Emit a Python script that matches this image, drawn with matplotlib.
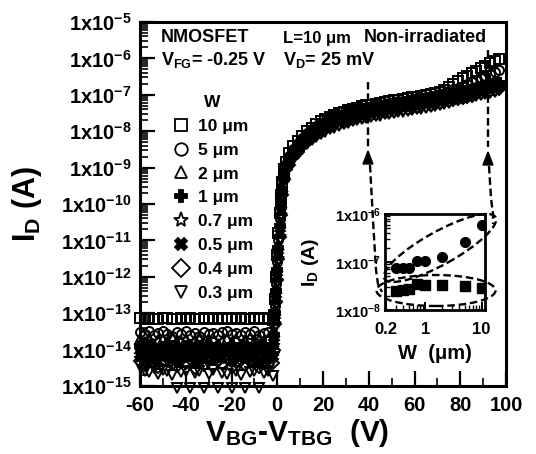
import numpy as np
import matplotlib
matplotlib.use("Agg")
import matplotlib.pyplot as plt
from matplotlib.lines import Line2D
from matplotlib.patches import Ellipse, Polygon
from matplotlib.ticker import LogLocator, FuncFormatter, MultipleLocator, NullFormatter, FixedLocator, FixedFormatter

plt.rcParams['font.family'] = ['Liberation Sans', 'DejaVu Sans']
plt.rcParams['font.weight'] = 'bold'
plt.rcParams['mathtext.fontset'] = 'custom'
plt.rcParams['mathtext.rm'] = 'Liberation Sans:bold'
plt.rcParams['mathtext.it'] = 'Liberation Sans:bold'
plt.rcParams['mathtext.bf'] = 'Liberation Sans:bold'
plt.rcParams['mathtext.default'] = 'rm'
plt.rcParams['axes.unicode_minus'] = False

# ---------------- data (log10 of I_D in A) ----------------
V_OFF = list(range(-60, -1, 2))                       # 30 pts
V_SUB = [-1.5, -1, -0.5, 0, 0.5, 1, 1.5, 2, 3, 4]      # 10 pts
V_ON = list(range(5, 98, 2))                          # 47 pts
V_BG = V_OFF + V_SUB + V_ON

W_LABELS = ["10 μm", "5 μm", "2 μm", "1 μm", "0.7 μm", "0.5 μm", "0.4 μm", "0.3 μm"]

logid_10um = [-13.14,-13.16,-13.13,-13.15,-13.17,-13.14,-13.12,-13.15,-13.16,-13.13,-13.15,-13.14,-13.17,-13.15,-13.13,-13.16,-13.14,-13.15,-13.12,-13.16,-13.14,-13.15,-13.13,-13.17,-13.15,-13.14,-13.16,-13.13,-13.15,-13.18,
    -13.05,-12.6,-12.0,-11.4,-10.8,-10.25,-9.75,-9.4,-9.05,-8.85,
    -8.60,-8.42,-8.27,-8.13,-8.00,-7.90,-7.81,-7.73,-7.66,-7.60,-7.55,-7.50,-7.46,-7.42,-7.38,-7.35,-7.32,-7.29,-7.27,-7.24,-7.22,-7.19,-7.17,-7.15,-7.13,-7.11,-7.09,-7.07,-7.05,-7.03,-7.01,-6.98,-6.95,-6.91,
    -6.86,-6.79,-6.71,-6.63,-6.55,-6.48,-6.41,-6.34,-6.27,-6.20,-6.14,-6.08,-6.02]
logid_5um = [-13.52,-13.58,-13.50,-13.61,-13.55,-13.49,-13.57,-13.63,-13.53,-13.56,-13.50,-13.59,-13.54,-13.62,-13.51,-13.57,-13.55,-13.60,-13.52,-13.48,-13.58,-13.54,-13.61,-13.53,-13.56,-13.50,-13.59,-13.55,-13.52,-13.57,
    -13.3,-12.8,-12.2,-11.6,-11.0,-10.4,-9.85,-9.5,-9.1,-8.9,
    -8.67,-8.48,-8.33,-8.18,-8.05,-7.95,-7.86,-7.78,-7.71,-7.65,-7.60,-7.55,-7.51,-7.47,-7.43,-7.40,-7.37,-7.34,-7.32,-7.29,-7.27,-7.24,-7.22,-7.20,-7.18,-7.16,-7.14,-7.12,-7.10,-7.08,-7.06,-7.04,-7.02,-6.99,
    -6.95,-6.90,-6.85,-6.80,-6.75,-6.70,-6.64,-6.59,-6.53,-6.48,-6.42,-6.37,-6.32]
logid_2um = [-13.72,-13.80,-13.68,-13.85,-13.74,-13.70,-13.79,-13.66,-13.83,-13.76,-13.71,-13.88,-13.73,-13.69,-13.81,-13.75,-13.67,-13.84,-13.77,-13.72,-13.80,-13.70,-13.86,-13.74,-13.68,-13.79,-13.73,-13.82,-13.71,-13.76,
    -13.5,-12.9,-12.3,-11.7,-11.1,-10.5,-9.95,-9.55,-9.15,-8.92,
    -8.72,-8.52,-8.37,-8.22,-8.09,-7.99,-7.90,-7.82,-7.75,-7.69,-7.64,-7.59,-7.55,-7.51,-7.47,-7.44,-7.41,-7.38,-7.36,-7.33,-7.31,-7.28,-7.26,-7.24,-7.22,-7.20,-7.18,-7.16,-7.14,-7.12,-7.10,-7.08,-7.06,-7.03,
    -7.00,-6.97,-6.94,-6.91,-6.88,-6.85,-6.82,-6.79,-6.76,-6.73,-6.70,-6.67,-6.64]
logid_1um = [-13.90,-14.02,-13.88,-13.97,-14.05,-13.92,-13.85,-14.00,-13.94,-14.08,-13.89,-13.96,-14.03,-13.91,-13.99,-13.87,-14.06,-13.93,-13.98,-14.01,-13.86,-13.95,-14.04,-13.90,-13.97,-14.07,-13.92,-13.88,-14.00,-13.94,
    -13.6,-13.0,-12.4,-11.8,-11.2,-10.6,-10.0,-9.6,-9.2,-8.95,
    -8.76,-8.56,-8.41,-8.26,-8.13,-8.03,-7.94,-7.86,-7.79,-7.73,-7.68,-7.63,-7.59,-7.55,-7.51,-7.48,-7.45,-7.42,-7.40,-7.37,-7.35,-7.32,-7.30,-7.28,-7.26,-7.24,-7.22,-7.20,-7.18,-7.16,-7.14,-7.12,-7.10,-7.07,
    -7.04,-7.01,-6.98,-6.95,-6.92,-6.89,-6.86,-6.83,-6.80,-6.77,-6.74,-6.71,-6.68]
logid_07um = [-14.05,-14.18,-14.02,-14.12,-14.22,-14.08,-14.00,-14.15,-14.25,-14.06,-14.13,-14.03,-14.20,-14.10,-14.16,-14.04,-14.24,-14.09,-14.14,-14.01,-14.19,-14.11,-14.07,-14.23,-14.12,-14.05,-14.17,-14.28,-14.10,-14.15,
    -13.8,-13.1,-12.5,-11.9,-11.3,-10.7,-10.1,-9.65,-9.25,-9.0,
    -8.81,-8.61,-8.46,-8.31,-8.18,-8.08,-7.99,-7.91,-7.84,-7.78,-7.73,-7.68,-7.64,-7.60,-7.56,-7.53,-7.50,-7.47,-7.45,-7.42,-7.40,-7.37,-7.35,-7.33,-7.31,-7.29,-7.27,-7.25,-7.23,-7.21,-7.19,-7.17,-7.15,-7.12,
    -7.09,-7.06,-7.03,-7.00,-6.97,-6.94,-6.91,-6.88,-6.85,-6.82,-6.79,-6.76,-6.73]
logid_05um = [-14.15,-14.28,-14.10,-14.22,-14.33,-14.18,-14.08,-14.25,-14.30,-14.14,-14.21,-14.12,-14.35,-14.19,-14.26,-14.11,-14.29,-14.17,-14.24,-14.09,-14.31,-14.20,-14.16,-14.27,-14.13,-14.23,-14.34,-14.18,-14.25,-14.21,
    -13.8,-13.2,-12.6,-12.0,-11.4,-10.8,-10.2,-9.7,-9.3,-9.02,
    -8.86,-8.66,-8.51,-8.36,-8.23,-8.13,-8.04,-7.96,-7.89,-7.83,-7.78,-7.73,-7.69,-7.65,-7.61,-7.58,-7.55,-7.52,-7.50,-7.47,-7.45,-7.42,-7.40,-7.38,-7.36,-7.34,-7.32,-7.30,-7.28,-7.26,-7.24,-7.22,-7.20,-7.17,
    -7.14,-7.11,-7.08,-7.05,-7.02,-6.99,-6.96,-6.93,-6.90,-6.87,-6.84,-6.81,-6.78]
logid_04um = [-14.30,-14.42,-14.25,-14.38,-14.48,-14.32,-14.22,-14.40,-14.45,-14.28,-14.36,-14.27,-14.50,-14.33,-14.41,-14.26,-14.46,-14.31,-14.39,-14.24,-14.47,-14.35,-14.29,-14.43,-14.30,-14.37,-14.49,-14.34,-14.40,-14.36,
    -14.0,-13.3,-12.7,-12.1,-11.5,-10.9,-10.3,-9.75,-9.32,-9.05,
    -8.92,-8.72,-8.57,-8.42,-8.29,-8.19,-8.10,-8.02,-7.95,-7.89,-7.84,-7.79,-7.75,-7.71,-7.67,-7.64,-7.61,-7.58,-7.56,-7.53,-7.51,-7.48,-7.46,-7.44,-7.42,-7.40,-7.38,-7.36,-7.34,-7.32,-7.30,-7.28,-7.26,-7.23,
    -7.20,-7.17,-7.14,-7.11,-7.08,-7.05,-7.02,-6.99,-6.96,-6.93,-6.90,-6.87,-6.84]
logid_03um = [-14.45,-14.58,-14.62,-14.50,-14.66,-14.55,-14.60,-14.70,-15.05,-14.62,-14.58,-15.05,-14.65,-14.60,-15.05,-14.68,-14.57,-15.05,-14.63,-14.66,-15.05,-14.60,-14.70,-15.05,-14.62,-14.59,-15.05,-14.64,-14.60,-14.72,
    -14.2,-13.4,-12.8,-12.2,-11.6,-11.0,-10.4,-9.8,-9.35,-9.08,
    -8.98,-8.78,-8.63,-8.48,-8.35,-8.25,-8.16,-8.08,-8.01,-7.95,-7.90,-7.85,-7.81,-7.77,-7.73,-7.70,-7.67,-7.64,-7.62,-7.59,-7.57,-7.54,-7.52,-7.50,-7.48,-7.46,-7.44,-7.42,-7.40,-7.38,-7.36,-7.34,-7.32,-7.29,
    -7.26,-7.22,-7.18,-7.15,-7.12,-7.09,-7.06,-7.03,-7.00,-6.97,-6.94,-6.91,-6.88]

SERIES = [logid_10um, logid_5um, logid_2um, logid_1um, logid_07um, logid_05um, logid_04um, logid_03um]
MARKERS = ['s', 'o', '^', 'P', '*', 'X', 'D', 'v']
FILLED = [False, False, False, True, False, True, False, False]

# inset data
W_INSET = [0.3, 0.4, 0.5, 0.7, 1, 2, 5, 10]
ID_INSET_HIGH = [7.5e-8, 7.5e-8, 7.6e-8, 1.05e-7, 1.05e-7, 1.3e-7, 2.6e-7, 6.0e-7]
ID_INSET_LOW = [2.5e-8, 2.6e-8, 2.7e-8, 3.5e-8, 3.3e-8, 3.3e-8, 3.1e-8, 2.9e-8]

# ---------------- figure ----------------
W_PX, H_PX = 536, 454
fig = plt.figure(figsize=(W_PX / 100, H_PX / 100), dpi=100)
fig.patch.set_facecolor('white')

def fx(px):
    return px / W_PX

def fy(py):
    return 1 - py / H_PX

ax = fig.add_axes([fx(140), fy(386), fx(506) - fx(140), fy(22) - fy(386)])
ax.set_yscale('log')
ax.set_xlim(-60, 100)
ax.set_ylim(1e-15, 1e-5)

for vals, mk, filled in zip(SERIES, MARKERS, FILLED):
    ms = 7.5 if mk == '*' else 6.5
    ax.plot(V_BG, [10 ** v for v in vals], ls='none', marker=mk, ms=ms,
            mfc='black' if filled else 'none', mec='black', mew=1.4, clip_on=False, zorder=3)

ax.xaxis.set_major_locator(MultipleLocator(20))
ax.xaxis.set_minor_locator(MultipleLocator(10))
ax.yaxis.set_major_locator(LogLocator(base=10, numticks=20))
ax.yaxis.set_minor_locator(LogLocator(base=10, subs=np.arange(2, 10), numticks=20))
ax.yaxis.set_major_formatter(FuncFormatter(lambda v, _: r'$1x10^{%d}$' % int(round(np.log10(v)))))
ax.yaxis.set_minor_formatter(NullFormatter())
ax.tick_params(which='both', direction='in', top=False, right=False)
ax.tick_params(which='major', length=11, width=1.6)
ax.tick_params(which='minor', length=6, width=1.2)
ax.tick_params(axis='x', labelsize=14.5, pad=7)
ax.tick_params(axis='y', labelsize=14.5, pad=6)
for lab in ax.get_xticklabels():
    lab.set_fontweight('bold')
for sp in ax.spines.values():
    sp.set_linewidth(2.2)

ax.set_xlabel(r'V$_{\rm BG}$-V$_{\rm TBG}$  (V)', fontsize=21.5, fontweight='bold')
ax.xaxis.set_label_coords(0.43, -0.085)
ax.set_ylabel(r'I$_{\rm D}$ (A)', fontsize=22, fontweight='bold')
ax.yaxis.set_label_coords(-0.262, 0.5)

# header texts
fig.text(fx(161), fy(38), 'NMOSFET', fontsize=13, fontweight='bold', va='center')
fig.text(fx(283), fy(38), 'L=10 μm', fontsize=12, fontweight='bold', va='center')
fig.text(fx(364), fy(38), 'Non-irradiated', fontsize=13, fontweight='bold', va='center')
fig.text(fx(161), fy(60), r'V$_{\rm FG}$= -0.25 V', fontsize=13, fontweight='bold', va='center')
fig.text(fx(283), fy(60), r'V$_{\rm D}$= 25 mV', fontsize=13, fontweight='bold', va='center')

# legend
handles = [Line2D([], [], ls='none', marker=mk, ms=(11 if mk == '*' else 9),
                  mfc='black' if f else 'none', mec='black', mew=1.3)
           for mk, f in zip(MARKERS, FILLED)]
leg = ax.legend(handles, W_LABELS, title='W', loc='upper left',
                bbox_to_anchor=((172 - 140) / 366, 1 - (95 - 22) / 364),
                frameon=False, prop={'size': 12.5, 'weight': 'bold'},
                title_fontproperties={'size': 12.5, 'weight': 'bold'},
                handlelength=1.0, handletextpad=0.5, labelspacing=0.5,
                borderpad=0, borderaxespad=0)

# ---------------- inset ----------------
axin = fig.add_axes([fx(385), fy(310), fx(485) - fx(385), fy(214) - fy(310)])
axin.set_xscale('log')
axin.set_yscale('log')
axin.set_xlim(0.19, 11.5)
axin.set_ylim(1e-8, 1e-6)
axin.plot(W_INSET, ID_INSET_HIGH, ls='none', marker='o', ms=7, mfc='black', mec='black', zorder=3)
axin.plot(W_INSET, ID_INSET_LOW, ls='none', marker='s', ms=6.5, mfc='black', mec='black', zorder=3)
axin.xaxis.set_major_locator(FixedLocator([0.2, 1, 10]))
axin.xaxis.set_major_formatter(FixedFormatter(['0.2', '1', '10']))
axin.xaxis.set_minor_locator(LogLocator(base=10, subs=np.arange(2, 10), numticks=10))
axin.xaxis.set_minor_formatter(NullFormatter())
axin.yaxis.set_major_locator(FixedLocator([1e-8, 1e-7, 1e-6]))
axin.yaxis.set_major_formatter(FuncFormatter(lambda v, _: r'$1x10^{%d}$' % int(round(np.log10(v)))))
axin.yaxis.set_minor_locator(LogLocator(base=10, subs=np.arange(2, 10), numticks=10))
axin.yaxis.set_minor_formatter(NullFormatter())
axin.tick_params(which='both', direction='in', top=False, right=False)
axin.tick_params(which='major', length=6, width=1.4)
axin.tick_params(which='minor', length=3.5, width=1.0)
axin.tick_params(axis='x', labelsize=12, pad=9)
axin.tick_params(axis='y', labelsize=10.5, pad=3)
for lab in axin.get_xticklabels():
    lab.set_fontweight('bold')
for sp in axin.spines.values():
    sp.set_linewidth(2.0)
axin.set_xlabel('W  (μm)', fontsize=14.5, fontweight='bold', labelpad=5)
axin.set_ylabel(r'I$_{\rm D}$ (A)', fontsize=14, fontweight='bold', labelpad=10)

# ---------------- ellipses & arrows ----------------
dash = (0, (3.2, 1.6))
def inch(px, py):
    return (px / 100, (H_PX - py) / 100)

e1 = Ellipse(inch(440, 248), 1.27, 0.33, angle=29, fill=False, ls=dash, lw=1.7,
             ec='black', transform=fig.dpi_scale_trans, zorder=5)
e2 = Ellipse(inch(436, 290.5), 1.19, 0.31, angle=0, fill=False, ls=dash, lw=1.7,
             ec='black', transform=fig.dpi_scale_trans, zorder=5)
fig.add_artist(e1)
fig.add_artist(e2)

def dline(pts):
    xs = [fx(p[0]) for p in pts]
    ys = [fy(p[1]) for p in pts]
    fig.add_artist(Line2D(xs, ys, transform=fig.transFigure, color='black', lw=1.7,
                          ls=dash, zorder=5))

def head(tipx, tipy, w=5, h=13):
    pts = [(fx(tipx), fy(tipy)), (fx(tipx - w), fy(tipy + h)), (fx(tipx + w), fy(tipy + h))]
    fig.add_artist(Polygon(pts, closed=True, transform=fig.transFigure, fc='black',
                           ec='black', zorder=6))

# left arrow
dline([(368, 82), (368, 148)])
head(368, 151)
dline([(370, 165), (373, 220), (376, 270), (378, 284), (382, 292)])
# right arrow
dline([(488, 50), (488, 147)])
head(488, 152)
dline([(489, 166), (491, 198), (493, 214), (493, 224)])

fig.savefig('out.png', dpi=100, facecolor='white')
